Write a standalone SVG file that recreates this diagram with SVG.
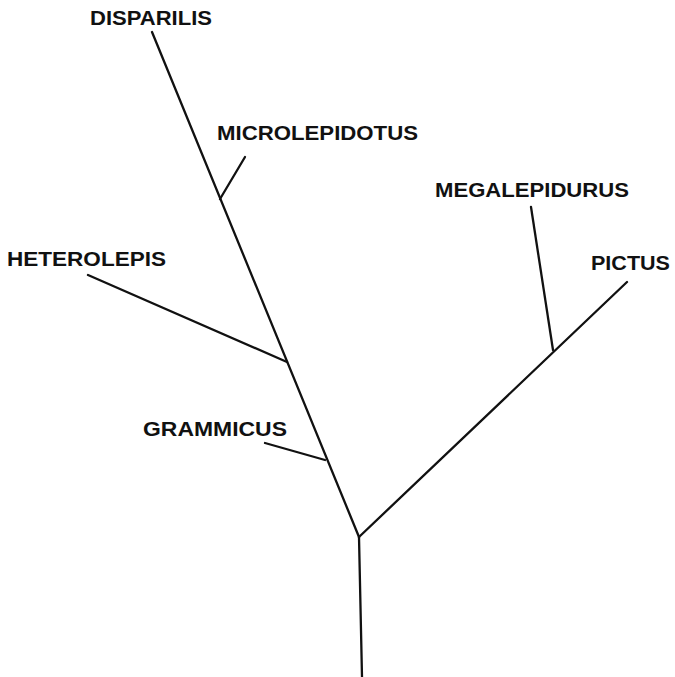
<svg xmlns="http://www.w3.org/2000/svg" width="675" height="677" viewBox="0 0 675 677">
<style>
.lbl{font-family:"Liberation Sans","DejaVu Sans",Arial,sans-serif;font-weight:bold;font-size:19.5px;fill:#111}
.br{stroke:#111;stroke-width:2.3;fill:none;stroke-linecap:round}
</style>
<rect width="675" height="677" fill="#fff"/>
<g id="connectors">
<line class="br" x1="359" y1="537" x2="362" y2="677"/>
<line class="br" x1="359" y1="537" x2="152" y2="32"/>
<line class="br" x1="359" y1="537" x2="627" y2="282"/>
<line class="br" x1="220" y1="199" x2="245" y2="157"/>
<line class="br" x1="287" y1="362" x2="88" y2="275"/>
<line class="br" x1="325" y1="460" x2="265" y2="443"/>
<line class="br" x1="553" y1="350" x2="531" y2="207"/>
</g>
<g id="disparilis"><text class="lbl" x="90" y="25" textLength="122" lengthAdjust="spacingAndGlyphs">DISPARILIS</text></g>
<g id="microlepidotus"><text class="lbl" x="217" y="140" textLength="201" lengthAdjust="spacingAndGlyphs">MICROLEPIDOTUS</text></g>
<g id="megalepidurus"><text class="lbl" x="435" y="197" textLength="194" lengthAdjust="spacingAndGlyphs">MEGALEPIDURUS</text></g>
<g id="pictus"><text class="lbl" x="591" y="270" textLength="79" lengthAdjust="spacingAndGlyphs">PICTUS</text></g>
<g id="heterolepis"><text class="lbl" x="7" y="266" textLength="159" lengthAdjust="spacingAndGlyphs">HETEROLEPIS</text></g>
<g id="grammicus"><text class="lbl" x="143" y="436" textLength="144" lengthAdjust="spacingAndGlyphs">GRAMMICUS</text></g>
</svg>
